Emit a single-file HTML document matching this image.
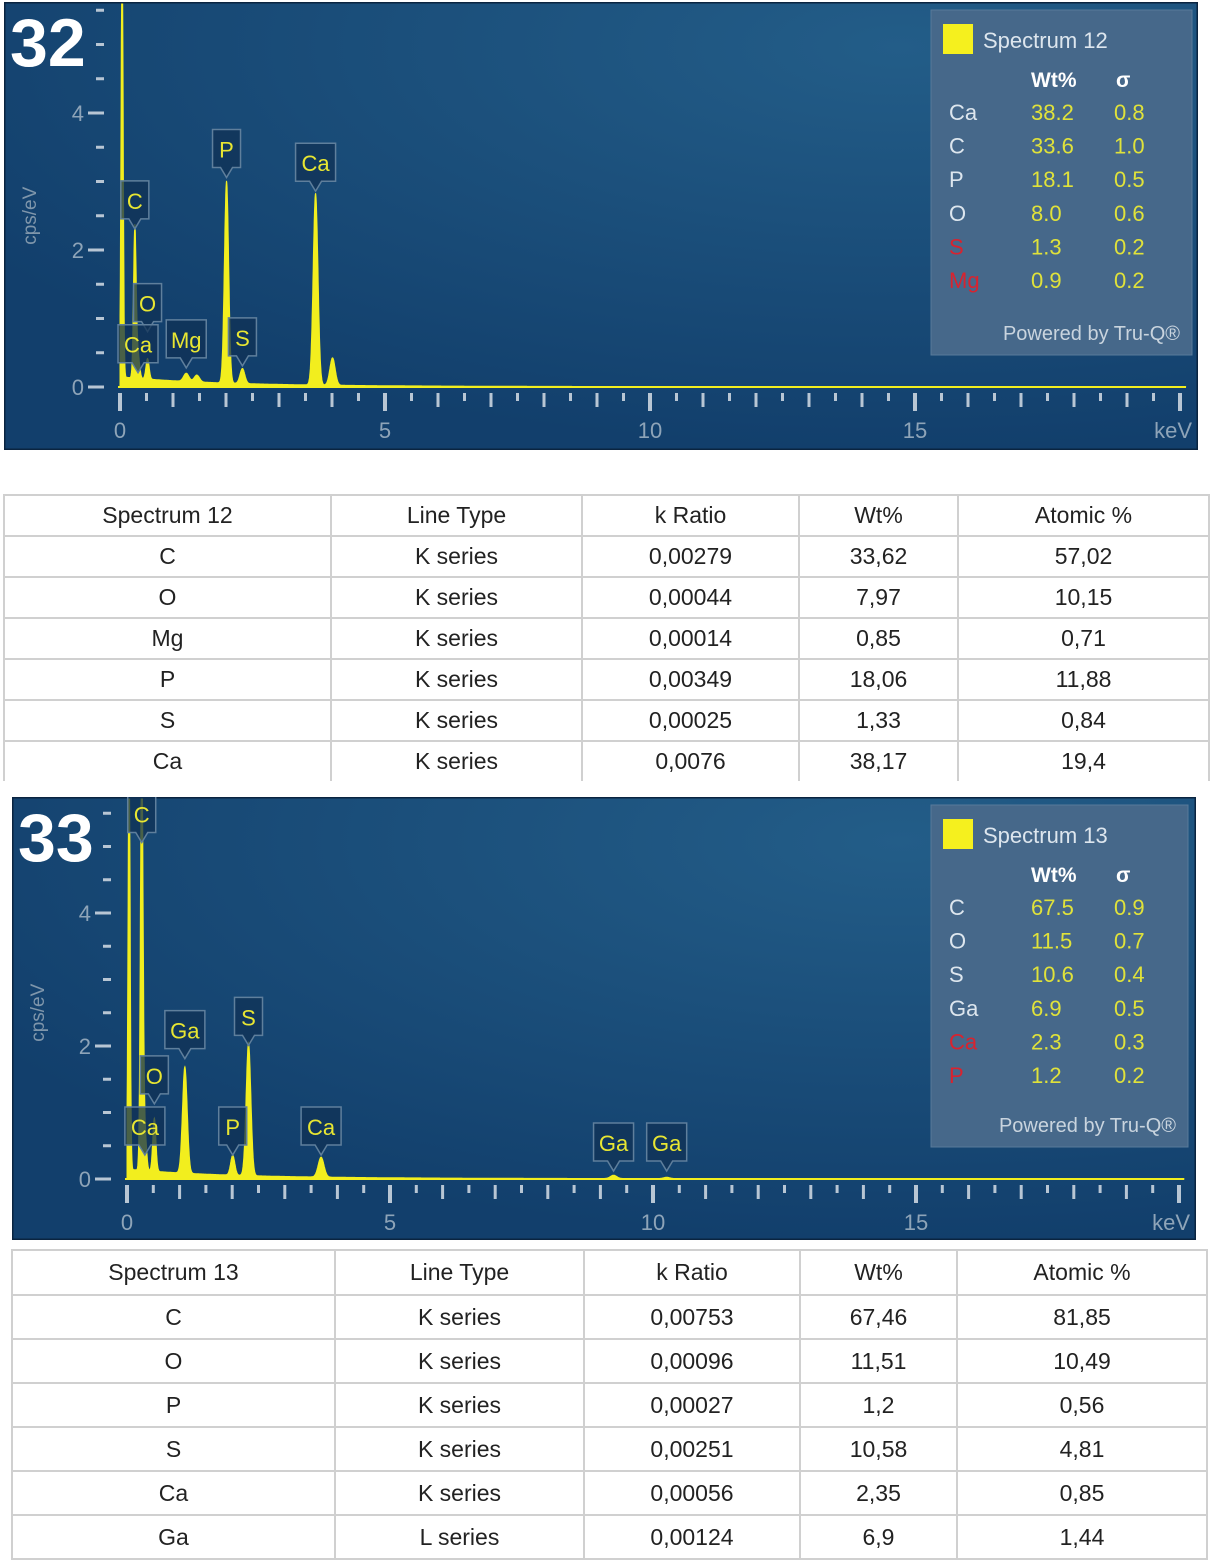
<!DOCTYPE html>
<html><head><meta charset="utf-8">
<style>
body{margin:0;background:#fff;width:1210px;height:1563px;overflow:hidden;position:relative;font-family:"Liberation Sans",sans-serif}
svg{position:absolute;left:0;top:0}
table{position:absolute;border-collapse:collapse;table-layout:fixed;font-family:"Liberation Sans",sans-serif;color:#222;font-size:23px}
td{border:2px solid #d0d0d0;text-align:center;padding:0}
</style></head>
<body>
<svg id="chart" width="1210" height="1563" viewBox="0 0 1210 1563">
<defs>
<radialGradient id="bg" cx="0.75" cy="0.1" r="0.9">
<stop offset="0" stop-color="#235d88"/><stop offset="1" stop-color="#123f6c"/>
</radialGradient>
<clipPath id="c1"><rect x="4" y="2" width="1194" height="448"/></clipPath>
<clipPath id="c2"><rect x="12" y="797" width="1184" height="443"/></clipPath>
</defs>
</svg>

<table id="t1" style="left:3px;top:494px;width:1205px">
<colgroup><col style="width:327px"><col style="width:251px"><col style="width:217px"><col style="width:159px"><col style="width:251px"></colgroup>
<tr style="height:41px"><td>Spectrum 12</td><td>Line Type</td><td>k Ratio</td><td>Wt%</td><td>Atomic %</td></tr>
<tr style="height:41px"><td>C</td><td>K series</td><td>0,00279</td><td>33,62</td><td>57,02</td></tr>
<tr style="height:41px"><td>O</td><td>K series</td><td>0,00044</td><td>7,97</td><td>10,15</td></tr>
<tr style="height:41px"><td>Mg</td><td>K series</td><td>0,00014</td><td>0,85</td><td>0,71</td></tr>
<tr style="height:41px"><td>P</td><td>K series</td><td>0,00349</td><td>18,06</td><td>11,88</td></tr>
<tr style="height:41px"><td>S</td><td>K series</td><td>0,00025</td><td>1,33</td><td>0,84</td></tr>
<tr style="height:40px"><td style="border-bottom:none">Ca</td><td style="border-bottom:none">K series</td><td style="border-bottom:none">0,0076</td><td style="border-bottom:none">38,17</td><td style="border-bottom:none">19,4</td></tr>
</table>

<table id="t2" style="left:11px;top:1249px;width:1195px">
<colgroup><col style="width:323px"><col style="width:249px"><col style="width:216px"><col style="width:157px"><col style="width:250px"></colgroup>
<tr style="height:45px"><td>Spectrum 13</td><td>Line Type</td><td>k Ratio</td><td>Wt%</td><td>Atomic %</td></tr>
<tr style="height:44px"><td>C</td><td>K series</td><td>0,00753</td><td>67,46</td><td>81,85</td></tr>
<tr style="height:44px"><td>O</td><td>K series</td><td>0,00096</td><td>11,51</td><td>10,49</td></tr>
<tr style="height:44px"><td>P</td><td>K series</td><td>0,00027</td><td>1,2</td><td>0,56</td></tr>
<tr style="height:44px"><td>S</td><td>K series</td><td>0,00251</td><td>10,58</td><td>4,81</td></tr>
<tr style="height:44px"><td>Ca</td><td>K series</td><td>0,00056</td><td>2,35</td><td>0,85</td></tr>
<tr style="height:44px"><td>Ga</td><td>L series</td><td>0,00124</td><td>6,9</td><td>1,44</td></tr>
</table>

<script>
// Spectrum 12 peaks (keV, cps/eV height, width keV)
const peakE1 = [0.04, 0.28, 0.34, 0.52, 1.25, 1.45, 2.01, 2.31, 3.69, 4.01];
const peakH1 = [6.5, 2.2, 0.35, 0.3, 0.12, 0.1, 2.95, 0.22, 2.8, 0.4];
const peakW1 = [0.02, 0.025, 0.03, 0.03, 0.05, 0.05, 0.04, 0.045, 0.045, 0.05];
const labels1 = ["C","O","Ca","Mg","S","P","Ca"];
const labelE1 = [0.28,0.52,0.34,1.25,2.31,2.01,3.69];
const labelY1 = [2.25,0.75,0.15,0.22,0.25,3.0,2.8];
// Spectrum 13 peaks
const peakE2 = [0.04, 0.28, 0.34, 0.52, 1.1, 2.01, 2.31, 3.69, 9.25, 10.26];
const peakH2 = [6.5, 6.5, 0.6, 0.8, 1.6, 0.3, 2.0, 0.3, 0.05, 0.02];
const peakW2 = [0.02, 0.025, 0.03, 0.03, 0.045, 0.04, 0.045, 0.055, 0.06, 0.06];
const labels2 = ["C","O","Ga","Ca","P","S","Ca","Ga","Ga"];
const labelE2 = [0.28,0.52,1.1,0.34,2.01,2.31,3.69,9.25,10.26];
const labelY2 = [5.0,1.07,1.75,0.3,0.3,1.95,0.3,0.06,0.06];
const yTicks = ["0","2","4"];
const xTicks = ["0","5","10","15"];
const legendEl1 = ["Ca","C","P","O","S","Mg"];
const legendWt1 = ["38.2","33.6","18.1","8.0","1.3","0.9"];
const legendSig1 = ["0.8","1.0","0.5","0.6","0.2","0.2"];
const legendEl2 = ["C","O","S","Ga","Ca","P"];
const legendWt2 = ["67.5","11.5","10.6","6.9","2.3","1.2"];
const legendSig2 = ["0.9","0.7","0.4","0.5","0.3","0.2"];

const svg = document.getElementById('chart');
const NS = 'http://www.w3.org/2000/svg';
function mk(tag, attrs, parent){const e=document.createElementNS(NS,tag);for(const k in attrs)e.setAttribute(k,attrs[k]);(parent||svg).appendChild(e);return e;}
function txt(s, attrs, parent){const e=mk('text',attrs,parent);e.textContent=s;return e;}

function drawChart(o){
  const g = mk('g',{'clip-path':`url(#${o.clip})`});
  
  
  const bgR = mk('rect',{x:o.px,y:o.py,width:o.pw,height:o.ph,fill:'url(#bg)',stroke:'#0a2440','stroke-width':3},g);
  
  
  const X = e => o.x0 + e*o.kx;
  const Y = v => o.y0 - v*o.ky;
  const top = o.py+2;
  for(let v=0; v<=5.5; v+=0.5){
    const major = Math.abs(v%2)<1e-6;
    const t = mk('line',{x1:major?o.x0-32:o.x0-24,x2:o.x0-16,y1:Y(v),y2:Y(v),stroke:'#b8c6d4','stroke-width':3},g);
    
    
  }
  yTicks.forEach(s=>{
    const l = txt(s,{x:o.x0-36,y:Y(+s)+8,'text-anchor':'end',fill:'#8ea4b8','font-size':22},g);
    
    
  });
  const yt = txt('cps/eV',{x:0,y:0,transform:`translate(${o.px+32},${Y(2.5)}) rotate(-90)`,'text-anchor':'middle',fill:'#7f96ab','font-size':19},g);
  
  
  for(let i=0;i<=40;i++){
    const e=i*0.5;
    const maj5 = i%10===0, maj1 = i%2===0;
    const t = mk('line',{x1:X(e),x2:X(e),y1:o.y0+6,y2:o.y0+(maj5?24:maj1?20:14),stroke:'#b8c6d4','stroke-width':maj5?4:3},g);
    
    
  }
  xTicks.forEach(s=>{
    const l = txt(s,{x:X(+s),y:o.y0+51,'text-anchor':'middle',fill:'#8ea4b8','font-size':22},g);
    
    
  });
  const xt = txt('keV',{x:o.px+o.pw-6,y:o.y0+51,'text-anchor':'end',fill:'#8ea4b8','font-size':22},g);
  
  
  let d = `M${X(0)},${o.y0}`;
  const xmax = (o.px+o.pw-12-o.x0)/o.kx;
  for(let e=0; e<=xmax; e+=0.005){
    let v = 0.13*Math.exp(-e/1.8) + 0.02*Math.exp(-e/8);
    for(let k=0;k<o.pe.length;k++){const z=(e-o.pe[k])/o.pw_[k]; v+=o.ph_[k]*Math.exp(-0.5*z*z);}
    d += `L${X(e).toFixed(1)},${Math.max(top,Y(v)).toFixed(1)}`;
  }
  d += `L${X(xmax)},${o.y0}Z`;
  const sp = mk('path',{d:d,fill:'#f2ee1e',stroke:'#f2ee1e','stroke-width':1},g);
  
  
  mk('line',{x1:X(0)-2,x2:X(xmax),y1:o.y0,y2:o.y0,stroke:'#f2ee1e','stroke-width':2},g);
  o.labels.forEach((s,i)=>{
    const cx=X(o.le[i]), by=Y(o.ly[i])-4;
    const w = s.length>1?40:28, h=38;
    const lg = mk('g',{},g);
    
    
    mk('path',{d:`M${cx-w/2},${by-h-10}h${w}v${h}h${-w/2+6}l-6,10l-6,-10h${-w/2+6}z`,fill:'rgba(16,50,86,0.75)',stroke:'#5f7f9c','stroke-width':1.5},lg);
    txt(s,{x:cx,y:by-20,'text-anchor':'middle',fill:'#e8e632','font-size':22},lg);
  });
  const L = mk('g',{},g);
  
  
  mk('rect',{x:o.lx,y:o.ly0,width:o.lw,height:o.lh,fill:'#46688a',stroke:'#587a9a'},L);
  mk('rect',{x:o.lx+12,y:o.ly0+14,width:30,height:30,fill:'#f5f01e'},L);
  txt(o.title,{x:o.lx+52,y:o.ly0+38,fill:'#dde6ee','font-size':22},L);
  txt('Wt%',{x:o.lx+100,y:o.ly0+77,fill:'#fff','font-size':21,'font-weight':'bold'},L);
  txt('σ',{x:o.lx+185,y:o.ly0+77,fill:'#fff','font-size':21,'font-weight':'bold'},L);
  o.lel.forEach((s,i)=>{
    const yy=o.ly0+110+i*33.6;
    const e = txt(s,{x:o.lx+18,y:yy,fill:i>=4?'#d8232f':'#dde6ee','font-size':22},L);
    
    
    txt(o.lwt[i],{x:o.lx+100,y:yy,fill:'#e0e23a','font-size':22},L);
    txt(o.lsig[i],{x:o.lx+183,y:yy,fill:'#e0e23a','font-size':22},L);
  });
  txt('Powered by Tru-Q®',{x:o.lx+o.lw-12,y:o.ly0+o.lh-15,'text-anchor':'end',fill:'#c9d4de','font-size':20},L);
  const fn = txt(o.num,{x:o.px+6,y:o.py+64,fill:'#fff','font-size':68,'font-weight':'bold'},g);
  
  
}

drawChart({name:'spectrum-12-chart',clip:'c1',px:4,py:2,pw:1194,ph:448,x0:120,y0:387,kx:53,ky:68.5,
  pe:peakE1,ph_:peakH1,pw_:peakW1,labels:labels1,le:labelE1,ly:labelY1,
  lx:931,ly0:10,lw:261,lh:345,title:'Spectrum 12',lel:legendEl1,lwt:legendWt1,lsig:legendSig1,num:'32'});
drawChart({name:'spectrum-13-chart',clip:'c2',px:12,py:797,pw:1184,ph:443,x0:127,y0:1179,kx:52.6,ky:66.5,
  pe:peakE2,ph_:peakH2,pw_:peakW2,labels:labels2,le:labelE2,ly:labelY2,
  lx:931,ly0:805,lw:257,lh:342,title:'Spectrum 13',lel:legendEl2,lwt:legendWt2,lsig:legendSig2,num:'33'});
</script>
</body></html>
